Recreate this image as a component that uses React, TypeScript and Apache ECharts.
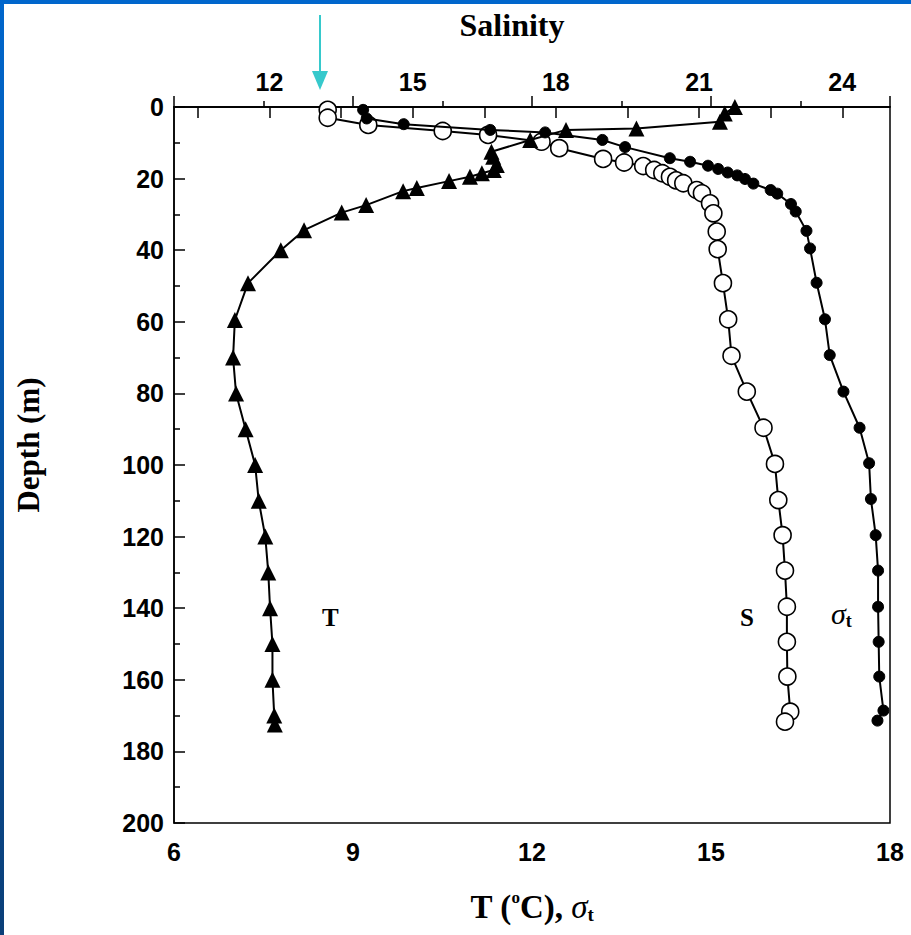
import React, { useEffect, useRef } from "react";
import * as echarts from "echarts";

// Temperature (°C) profile
const tDepth = [0, 1.8, 4.1, 6, 6.4, 9.2, 12.5, 13.9, 16.2, 17.6, 18.5, 19.5, 20.7, 22.6, 23.5, 27.4, 29.5, 34.4, 40, 49.2, 59.5, 70, 80, 90, 100, 110, 120, 130, 140, 150, 160, 170, 172.5];
const tValues = [15.4, 15.23, 15.15, 13.75, 12.57, 11.97, 11.32, 11.35, 11.41, 11.36, 11.16, 10.96, 10.61, 10.07, 9.84, 9.22, 8.81, 8.18, 7.79, 7.24, 7.02, 6.99, 7.04, 7.2, 7.36, 7.42, 7.53, 7.58, 7.61, 7.65, 7.65, 7.68, 7.69];

// Salinity profile
const sDepth = [0.8, 3, 5, 6.7, 7.8, 9.7, 11.5, 14.5, 15.5, 16.5, 17.6, 18.5, 19.5, 20.5, 21.3, 23.2, 24.1, 26.9, 29.7, 34.8, 39.7, 49.2, 59.3, 69.5, 79.5, 89.6, 99.7, 109.8, 119.6, 129.5, 139.6, 149.4, 159.1, 168.9, 171.7];
const sValues = [13.22, 13.22, 14.07, 15.63, 16.58, 17.7, 18.07, 18.99, 19.43, 19.83, 20.06, 20.23, 20.39, 20.52, 20.67, 20.95, 21.06, 21.23, 21.3, 21.37, 21.39, 21.5, 21.61, 21.68, 22.0, 22.35, 22.59, 22.66, 22.75, 22.8, 22.84, 22.84, 22.85, 22.91, 22.8];

// Sigma-t profile
const gDepth = [0.8, 3.2, 4.8, 6.4, 7.1, 9.2, 11.2, 14.3, 15.3, 16.4, 17.3, 18.3, 19.1, 20.1, 21.4, 23.2, 24.2, 27.1, 29.2, 34.6, 39.5, 49.1, 59.3, 69.3, 79.5, 89.6, 99.5, 109.5, 119.6, 129.5, 139.6, 149.4, 159.1, 168.6, 171.4];
const gValues = [9.17, 9.23, 9.85, 11.3, 12.22, 13.18, 13.56, 14.31, 14.65, 14.95, 15.12, 15.28, 15.44, 15.57, 15.71, 16.0, 16.11, 16.34, 16.42, 16.6, 16.66, 16.77, 16.91, 16.99, 17.22, 17.49, 17.65, 17.68, 17.76, 17.8, 17.8, 17.81, 17.82, 17.89, 17.79];

const topTickValues = [10.5, 12, 13.5, 15, 16.5, 18, 19.5, 21, 22.5, 24];
const topLabelValues = [12, 15, 18, 21, 24];

const tickFont = '"Liberation Sans", Arial, Helvetica, sans-serif';
const serif = '"Liberation Serif", "Times New Roman", "DejaVu Serif", serif';

export default function App() {
  const ref = useRef<HTMLDivElement>(null);
  useEffect(() => {
    if (!ref.current) return;
    const chart = echarts.init(ref.current, null, { renderer: "svg" });
    const labelStyle = { color: "#000", fontFamily: tickFont, fontWeight: "bold" as const, fontSize: 25 };
    chart.setOption({
      animation: false,
      backgroundColor: "#fff",
      grid: { left: 174, right: 21, top: 107, bottom: 112, show: true, borderColor: "#000", borderWidth: 1.5, backgroundColor: "transparent" },
      xAxis: [
        {
          type: "value", position: "bottom", min: 6, max: 18, interval: 3,
          axisLine: { show: true, lineStyle: { color: "#000", width: 1.5 } },
          axisTick: { show: true, inside: true, length: 11, lineStyle: { color: "#000", width: 1.5 } },
          minorTick: { show: true, splitNumber: 2, length: 6, lineStyle: { color: "#000", width: 1.5 } },
          splitLine: { show: false },
          axisLabel: { ...labelStyle, margin: 16 },
          name: "{n|T (}{sup|o}{n|C), }{sig|σ}{sub|t}",
          nameLocation: "middle", nameGap: 66,
          nameTextStyle: {
            rich: {
              n: { fontFamily: serif, fontWeight: "bold", fontSize: 33, color: "#000" },
              sup: { fontFamily: serif, fontWeight: "bold", fontSize: 17, color: "#000", padding: [0, 0, 18, 0] },
              sig: { fontFamily: serif, fontStyle: "italic", fontSize: 33, color: "#000" },
              sub: { fontFamily: serif, fontWeight: "bold", fontSize: 19, color: "#000", padding: [15, 0, 0, 0] },
            },
          },
        },
        {
          type: "value", position: "top", min: 10, max: 25,
          axisLine: { show: true, lineStyle: { color: "#000", width: 1.5 } },
          axisTick: { show: true, inside: true, length: 11, customValues: topTickValues, lineStyle: { color: "#000", width: 1.5 } },
          splitLine: { show: false },
          axisLabel: { ...labelStyle, margin: 13, customValues: topLabelValues },
        },
      ],
      yAxis: {
        type: "value", inverse: true, min: 0, max: 200, interval: 20,
        axisLine: { show: true, lineStyle: { color: "#000", width: 1.5 } },
        axisTick: { show: true, inside: true, length: 11, lineStyle: { color: "#000", width: 1.5 } },
        minorTick: { show: true, splitNumber: 2, length: 6, lineStyle: { color: "#000", width: 1.5 } },
        splitLine: { show: false },
        axisLabel: { ...labelStyle, margin: 10 },
      },
      series: [
        {
          name: "S", type: "line", xAxisIndex: 1, yAxisIndex: 0,
          data: sValues.map((v, i) => [v, sDepth[i]]),
          symbol: "circle", symbolSize: 17, showAllSymbol: true,
          lineStyle: { color: "#000", width: 2 },
          itemStyle: { color: "#fff", borderColor: "#000", borderWidth: 1.6 },
          z: 2,
        },
        {
          name: "σt", type: "line", xAxisIndex: 0, yAxisIndex: 0,
          data: gValues.map((v, i) => [v, gDepth[i]]),
          symbol: "circle", symbolSize: 11, showAllSymbol: true,
          lineStyle: { color: "#000", width: 2 },
          itemStyle: { color: "#000", borderColor: "#000", borderWidth: 1 },
          z: 3,
        },
        {
          name: "T", type: "line", xAxisIndex: 0, yAxisIndex: 0,
          data: tValues.map((v, i) => [v, tDepth[i]]),
          symbol: "triangle", symbolSize: 16, showAllSymbol: true,
          lineStyle: { color: "#000", width: 2 },
          itemStyle: { color: "#000" },
          z: 4,
        },
      ],
      graphic: [
        { type: "rect", left: 0, top: 0, shape: { width: 911, height: 4 }, style: { fill: "#0066cc" }, silent: true },
        {
          type: "rect", left: 0, top: 0, shape: { width: 4, height: 935 },
          style: { fill: new echarts.graphic.LinearGradient(0, 0, 0, 1, [{ offset: 0, color: "#0066cc" }, { offset: 1, color: "#0b3f78" }]) },
          silent: true,
        },
        { type: "line", shape: { x1: 320, y1: 15, x2: 320, y2: 74 }, style: { stroke: "#36c9cc", lineWidth: 2 }, silent: true },
        { type: "polygon", shape: { points: [[312, 71], [328, 71], [320, 90]] }, style: { fill: "#36c9cc" }, silent: true },
        {
          type: "text", x: 512, y: 25,
          style: { text: "Salinity", fontFamily: serif, fontWeight: "bold", fontSize: 32, fill: "#000", textAlign: "center", textVerticalAlign: "middle" },
        },
        {
          type: "text", x: 28, y: 445, rotation: Math.PI / 2,
          style: { text: "Depth (m)", fontFamily: serif, fontWeight: "bold", fontSize: 31, fill: "#000", textAlign: "center", textVerticalAlign: "middle" },
        },
        { type: "text", left: 322, top: 605, style: { text: "T", fontFamily: serif, fontWeight: "bold", fontSize: 25, fill: "#000" } },
        { type: "text", left: 740, top: 605, style: { text: "S", fontFamily: serif, fontWeight: "bold", fontSize: 25, fill: "#000" } },
        {
          type: "text", left: 831, top: 598,
          style: {
            text: "{sig|σ}{sub|t}",
            rich: {
              sig: { fontFamily: serif, fontStyle: "italic", fontSize: 30, fill: "#000" },
              sub: { fontFamily: serif, fontWeight: "bold", fontSize: 18, fill: "#000", padding: [15, 0, 0, 0] },
            },
          },
        },
      ],
    });
    return () => chart.dispose();
  }, []);
  return <div ref={ref} style={{ position: "fixed", left: 0, top: 0, width: 911, height: 935, background: "#fff" }} />;
}
